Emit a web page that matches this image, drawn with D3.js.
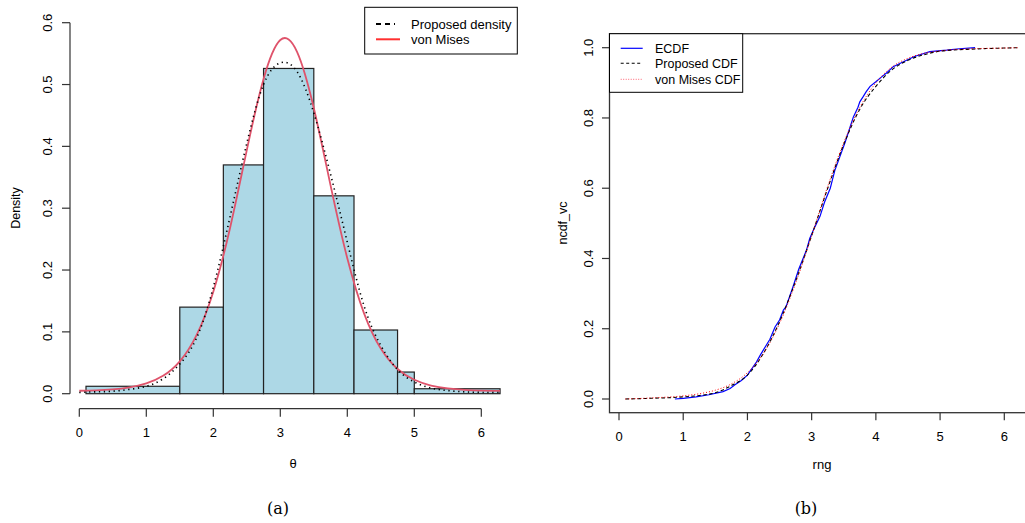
<!DOCTYPE html>
<meta charset="utf-8">
<script src="https://d3js.org/d3.v7.min.js"></script>
<style>
  body { margin: 0; background: #fff; }
  text { font-family: "Liberation Sans", Arial, sans-serif; fill: #000; }
</style>
<div id="chart"></div>
<script>

// ---- panel (a): histogram + densities ----
var breaks = [0.1, 1.5, 2.15, 2.75, 3.5, 4.1, 4.75, 5.0, 6.28];
var binDensity = [0.012, 0.14, 0.37, 0.526, 0.32, 0.103, 0.035, 0.008];

var densX = [0, 0.25, 0.5, 0.75, 1.0, 1.25, 1.5, 1.75, 2.0, 2.25, 2.5, 2.75, 3.0, 3.25, 3.5, 3.75, 4.0, 4.25, 4.5, 4.75, 5.0, 5.25, 5.5, 5.75, 6.0, 6.28];
var vonMises = [0.0048, 0.0054, 0.0069, 0.0102, 0.0166, 0.0289, 0.0523, 0.0947, 0.165, 0.268, 0.394, 0.509, 0.572, 0.553, 0.462, 0.337, 0.219, 0.130, 0.073, 0.040, 0.0225, 0.0132, 0.0085, 0.0061, 0.0050, 0.0047];
var proposed = [0.002, 0.003, 0.004, 0.007, 0.012, 0.024, 0.048, 0.090, 0.172, 0.286, 0.405, 0.500, 0.535, 0.521, 0.454, 0.355, 0.245, 0.142, 0.078, 0.039, 0.019, 0.009, 0.005, 0.003, 0.002, 0.002];

var xTicksA = [0, 1, 2, 3, 4, 5, 6];
var yTicksA = [0.0, 0.1, 0.2, 0.3, 0.4, 0.5, 0.6];

// ---- panel (b): CDFs ----
var ecdfX = [0.87, 1.0, 1.2, 1.4, 1.62, 1.73, 1.8, 1.9, 2.0, 2.14, 2.2, 2.3, 2.35, 2.43, 2.5, 2.56, 2.6, 2.71, 2.8, 2.92, 2.97, 3.05, 3.13, 3.2, 3.29, 3.36, 3.44, 3.52, 3.6, 3.65, 3.72, 3.75, 3.8, 3.85, 3.91, 4.0, 4.09, 4.18, 4.27, 4.35, 4.43, 4.6, 4.84, 5.1, 5.3, 5.545];
var ecdfY = [0.0, 0.002, 0.006, 0.012, 0.021, 0.03, 0.04, 0.052, 0.068, 0.105, 0.125, 0.155, 0.17, 0.205, 0.225, 0.253, 0.262, 0.32, 0.37, 0.424, 0.457, 0.49, 0.52, 0.56, 0.6, 0.65, 0.69, 0.73, 0.775, 0.803, 0.83, 0.846, 0.86, 0.875, 0.89, 0.903, 0.917, 0.93, 0.946, 0.953, 0.96, 0.975, 0.989, 0.993, 0.997, 1.0];

var cdfX = [0.1, 0.5, 1.0, 1.25, 1.5, 1.75, 2.0, 2.25, 2.5, 2.75, 3.0, 3.25, 3.5, 3.75, 4.0, 4.25, 4.5, 4.75, 5.0, 5.5, 6.0, 6.22];
var propCdf = [0.0, 0.002, 0.006, 0.010, 0.018, 0.038, 0.068, 0.13, 0.22, 0.335, 0.465, 0.60, 0.725, 0.825, 0.89, 0.937, 0.964, 0.98, 0.99, 0.996, 0.999, 1.0];
var vmCdf = [0.0, 0.003, 0.009, 0.015, 0.025, 0.043, 0.075, 0.13, 0.215, 0.33, 0.465, 0.605, 0.73, 0.83, 0.90, 0.945, 0.97, 0.984, 0.991, 0.997, 0.999, 1.0];

var xTicksB = [0, 1, 2, 3, 4, 5, 6];
var yTicksB = [0.0, 0.2, 0.4, 0.6, 0.8, 1.0];

var svg = d3.select("#chart").append("svg")
  .attr("width", 1025).attr("height", 523)
  .style("background", "#fff");

var axisColor = "#333";

// ================= panel (a) =================
var xA = d3.scaleLinear().domain([0, 6]).range([79.3, 481.3]);
var yA = d3.scaleLinear().domain([0, 0.6]).range([393.7, 22.7]);

var gA = svg.append("g");

// bars
gA.selectAll("rect.bar")
  .data(binDensity)
  .enter().append("rect")
    .attr("class", "bar")
    .attr("x", function(d, i) { return xA(breaks[i]); })
    .attr("width", function(d, i) { return xA(breaks[i + 1]) - xA(breaks[i]); })
    .attr("y", function(d) { return yA(d); })
    .attr("height", function(d) { return yA(0) - yA(d); })
    .attr("fill", "#add8e6")
    .attr("stroke", "#222")
    .attr("stroke-width", 1.2);

var lineA = d3.line()
  .x(function(d) { return xA(d[0]); })
  .y(function(d) { return yA(d[1]); })
  .curve(d3.curveNatural);

// von Mises
gA.append("path")
  .datum(densX.map(function(x, i) { return [x, vonMises[i]]; }))
  .attr("d", lineA)
  .attr("fill", "none")
  .attr("stroke", "#df536b")
  .attr("stroke-width", 1.8);

// proposed density (dotted)
gA.append("path")
  .datum(densX.map(function(x, i) { return [x, proposed[i]]; }))
  .attr("d", lineA)
  .attr("fill", "none")
  .attr("stroke", "#000")
  .attr("stroke-width", 1.6)
  .attr("stroke-dasharray", "1.3,3.6");

// x axis (R style, offset)
var axAx = gA.append("g").attr("transform", "translate(0,408.7)");
axAx.append("line")
  .attr("x1", xA(0)).attr("x2", xA(6))
  .attr("stroke", axisColor).attr("stroke-width", 1.2);
axAx.selectAll("line.tick").data(xTicksA).enter().append("line")
  .attr("x1", function(d) { return xA(d); }).attr("x2", function(d) { return xA(d); })
  .attr("y1", 0).attr("y2", 8)
  .attr("stroke", axisColor).attr("stroke-width", 1.2);
axAx.selectAll("text").data(xTicksA).enter().append("text")
  .attr("x", function(d) { return xA(d); })
  .attr("y", 28)
  .attr("text-anchor", "middle")
  .style("font-size", "13px")
  .text(function(d) { return d; });

// y axis
var ayAx = gA.append("g").attr("transform", "translate(70,0)");
ayAx.append("line")
  .attr("y1", yA(0)).attr("y2", yA(0.6))
  .attr("stroke", axisColor).attr("stroke-width", 1.2);
ayAx.selectAll("line.tick").data(yTicksA).enter().append("line")
  .attr("y1", function(d) { return yA(d); }).attr("y2", function(d) { return yA(d); })
  .attr("x1", 0).attr("x2", -8)
  .attr("stroke", axisColor).attr("stroke-width", 1.2);
ayAx.selectAll("text").data(yTicksA).enter().append("text")
  .attr("transform", function(d) { return "translate(-18," + yA(d) + ") rotate(-90)"; })
  .attr("text-anchor", "middle")
  .style("font-size", "13px")
  .text(function(d) { return d.toFixed(1); });

gA.append("text").attr("x", 293).attr("y", 468)
  .attr("text-anchor", "middle").style("font-size", "13px").text("θ");
gA.append("text").attr("transform", "translate(20,208) rotate(-90)")
  .attr("text-anchor", "middle").style("font-size", "12.5px").text("Density");

// legend (a)
var legA = gA.append("g");
legA.append("rect").attr("x", 364.7).attr("y", 7.3).attr("width", 152.6).attr("height", 46.7)
  .attr("fill", "#fff").attr("stroke", "#000").attr("stroke-width", 1);
legA.append("line").attr("x1", 376).attr("x2", 395).attr("y1", 24).attr("y2", 24)
  .attr("stroke", "#000").attr("stroke-width", 2).attr("stroke-dasharray", "5,4");
legA.append("line").attr("x1", 376).attr("x2", 400).attr("y1", 39.3).attr("y2", 39.3)
  .attr("stroke", "#ff3030").attr("stroke-width", 2);
legA.append("text").attr("x", 411).attr("y", 28.5).style("font-size", "13px").text("Proposed density");
legA.append("text").attr("x", 411).attr("y", 44).style("font-size", "13px").text("von Mises");

svg.append("text").attr("x", 278).attr("y", 514)
  .attr("text-anchor", "middle")
  .style("font-family", "'DejaVu Serif', serif").style("font-size", "16px")
  .text("(a)");

// ================= panel (b) =================
var xB = d3.scaleLinear().domain([0, 6]).range([619, 1004.3]);
var yB = d3.scaleLinear().domain([0, 1]).range([399, 47.7]);

var gB = svg.append("g");

var lineB = d3.line()
  .x(function(d) { return xB(d[0]); })
  .y(function(d) { return yB(d[1]); });

gB.append("path")
  .datum(ecdfX.map(function(x, i) { return [x, ecdfY[i]]; }))
  .attr("d", lineB)
  .attr("fill", "none").attr("stroke", "#0000ff").attr("stroke-width", 1.2);

gB.append("path")
  .datum(cdfX.map(function(x, i) { return [x, propCdf[i]]; }))
  .attr("d", lineB.curve(d3.curveMonotoneX))
  .attr("fill", "none").attr("stroke", "#000").attr("stroke-width", 1.1)
  .attr("stroke-dasharray", "3.5,2.5");

gB.append("path")
  .datum(cdfX.map(function(x, i) { return [x, vmCdf[i]]; }))
  .attr("d", lineB.curve(d3.curveMonotoneX))
  .attr("fill", "none").attr("stroke", "#ff0000").attr("stroke-width", 1)
  .attr("stroke-dasharray", "1,2");

// box (extends past right edge)
gB.append("rect").attr("x", 609.5).attr("y", 33.7).attr("width", 425).attr("height", 379)
  .attr("fill", "none").attr("stroke", axisColor).attr("stroke-width", 1.3);

var bxAx = gB.append("g").attr("transform", "translate(0,412.7)");
bxAx.selectAll("line").data(xTicksB).enter().append("line")
  .attr("x1", function(d) { return xB(d); }).attr("x2", function(d) { return xB(d); })
  .attr("y1", 0).attr("y2", 7.5)
  .attr("stroke", axisColor).attr("stroke-width", 1.2);
bxAx.selectAll("text").data(xTicksB).enter().append("text")
  .attr("x", function(d) { return xB(d); })
  .attr("y", 28)
  .attr("text-anchor", "middle")
  .style("font-size", "13px")
  .text(function(d) { return d; });

var byAx = gB.append("g").attr("transform", "translate(609.5,0)");
byAx.selectAll("line").data(yTicksB).enter().append("line")
  .attr("y1", function(d) { return yB(d); }).attr("y2", function(d) { return yB(d); })
  .attr("x1", 0).attr("x2", -7.5)
  .attr("stroke", axisColor).attr("stroke-width", 1.2);
byAx.selectAll("text").data(yTicksB).enter().append("text")
  .attr("transform", function(d) { return "translate(-17," + yB(d) + ") rotate(-90)"; })
  .attr("text-anchor", "middle")
  .style("font-size", "13px")
  .text(function(d) { return d.toFixed(1); });

gB.append("text").attr("x", 822).attr("y", 469)
  .attr("text-anchor", "middle").style("font-size", "13px").text("rng");
gB.append("text").attr("transform", "translate(567,223) rotate(-90)")
  .attr("text-anchor", "middle").style("font-size", "12.5px").text("ncdf_vc");

// legend (b)
var legB = gB.append("g");
legB.append("rect").attr("x", 609.5).attr("y", 33.7).attr("width", 133.2).attr("height", 58.6)
  .attr("fill", "#fff").attr("stroke", "#000").attr("stroke-width", 1);
legB.append("line").attr("x1", 620.7).attr("x2", 642.7).attr("y1", 48.3).attr("y2", 48.3)
  .attr("stroke", "#0000ff").attr("stroke-width", 1.2);
legB.append("line").attr("x1", 620.7).attr("x2", 642.7).attr("y1", 63.3).attr("y2", 63.3)
  .attr("stroke", "#000").attr("stroke-width", 1.1).attr("stroke-dasharray", "3,2.5");
legB.append("line").attr("x1", 620.7).attr("x2", 642.7).attr("y1", 79.3).attr("y2", 79.3)
  .attr("stroke", "#ff6070").attr("stroke-width", 1).attr("stroke-dasharray", "1,1.5");
legB.append("text").attr("x", 655).attr("y", 52.8).style("font-size", "12.5px").text("ECDF");
legB.append("text").attr("x", 655).attr("y", 67.8).style("font-size", "12.5px").text("Proposed CDF");
legB.append("text").attr("x", 655).attr("y", 83.8).style("font-size", "12.5px").text("von Mises CDF");

svg.append("text").attr("x", 806).attr("y", 514)
  .attr("text-anchor", "middle")
  .style("font-family", "'DejaVu Serif', serif").style("font-size", "16px")
  .text("(b)");

</script>
